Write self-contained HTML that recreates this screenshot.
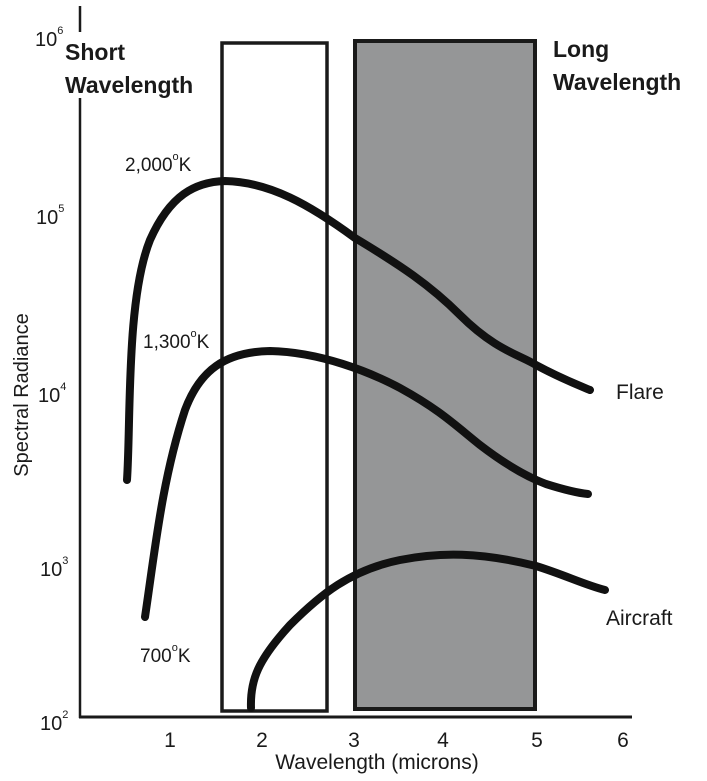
<!DOCTYPE html>
<html><head><style>body{margin:0;background:#fff}svg{display:block}</style></head><body>
<svg width="707" height="781" xmlns="http://www.w3.org/2000/svg" font-family="Liberation Sans, sans-serif" fill="#1a1a1a">
<rect x="355" y="41" width="180" height="668" fill="#959697" stroke="#1a1a1a" stroke-width="4"/>
<rect x="222" y="43" width="105" height="668" fill="none" stroke="#1a1a1a" stroke-width="3.5"/>
<line x1="80" y1="6" x2="80" y2="32" stroke="#1a1a1a" stroke-width="2.5"/>
<line x1="80" y1="98" x2="80" y2="718" stroke="#1a1a1a" stroke-width="2.5"/>
<line x1="79" y1="717" x2="632" y2="717" stroke="#1a1a1a" stroke-width="3"/>
<g fill="none" stroke="#111" stroke-width="8" stroke-linecap="round">
<path d="M127,480 C131,420 126,300 150,240 C170,195 195,182 225,181 C270,182 310,205 355,238 C400,265 430,285 460,315 C495,350 520,355 536,365 C560,378 578,385 590,390"/>
<path d="M145,617 C155,550 162,480 185,410 C200,370 225,352 270,351 C320,352 370,372 400,388 C440,410 455,425 480,445 C510,468 530,478 546,484 C565,490 578,493 588,494"/>
<path d="M251,708 C250,680 258,660 290,625 C320,595 350,570 400,560 C440,552 480,552 536,566 C565,575 585,585 605,590"/>
</g>
<g font-size="20">
<text x="35" y="46">10<tspan font-size="11" dy="-12">6</tspan></text>
<text x="36" y="224">10<tspan font-size="11" dy="-12">5</tspan></text>
<text x="38" y="402">10<tspan font-size="11" dy="-12">4</tspan></text>
<text x="40" y="576">10<tspan font-size="11" dy="-12">3</tspan></text>
<text x="40" y="730">10<tspan font-size="11" dy="-12">2</tspan></text>
</g>
<g font-size="21" text-anchor="middle">
<text x="170" y="747">1</text><text x="262" y="747">2</text><text x="354" y="747">3</text>
<text x="443" y="747">4</text><text x="537" y="747">5</text><text x="623" y="747">6</text>
<text x="377" y="769">Wavelength (microns)</text>
</g>
<text transform="translate(28,395) rotate(-90)" font-size="20" text-anchor="middle">Spectral Radiance</text>
<g font-size="23" font-weight="bold">
<text x="65" y="60">Short</text><text x="65" y="93">Wavelength</text>
<text x="553" y="57">Long</text><text x="553" y="90">Wavelength</text>
</g>
<g font-size="19">
<text x="125" y="171">2,000<tspan font-size="11" dy="-11">o</tspan><tspan dy="11">K</tspan></text>
<text x="143" y="348">1,300<tspan font-size="11" dy="-11">o</tspan><tspan dy="11">K</tspan></text>
<text x="140" y="662">700<tspan font-size="11" dy="-11">o</tspan><tspan dy="11">K</tspan></text>
</g>
<text x="616" y="399" font-size="21">Flare</text>
<text x="606" y="625" font-size="21">Aircraft</text>
</svg>
</body></html>
